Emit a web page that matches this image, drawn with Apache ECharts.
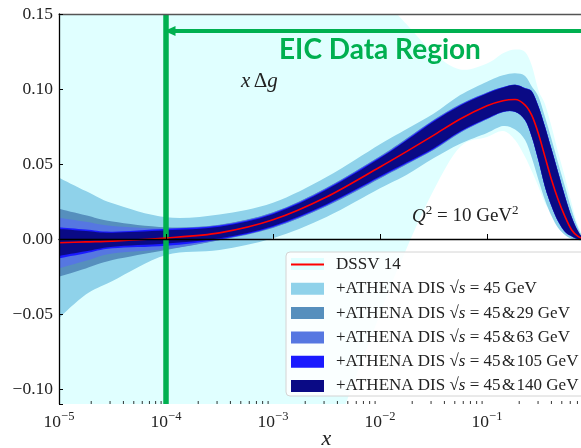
<!DOCTYPE html>
<html><head><meta charset="utf-8">
<script src="https://cdn.jsdelivr.net/npm/echarts@6/dist/echarts.min.js"></script>
<style>html,body{margin:0;padding:0;background:#fff}#c{width:581px;height:448px}</style>
</head><body><div id="c"></div>
<script>
// ---------------- data ----------------
const xVals = [1e-5, 1.78e-5, 3.16e-5, 1e-4, 3.16e-4, 1e-3, 3.16e-3, 0.01, 0.0178, 0.0316, 0.0562, 0.1, 0.141, 0.183, 0.227, 0.263, 0.303, 0.348, 0.401, 0.461, 0.536, 0.616, 0.709, 0.794, 1.0];
const dssvCentral = [-0.0025, -0.0019, -0.0014, 0.0007, 0.0041, 0.0128, 0.0280, 0.0480, 0.0584, 0.0691, 0.0800, 0.0888, 0.0922, 0.0930, 0.0893, 0.0822, 0.0700, 0.0549, 0.0395, 0.0265, 0.0149, 0.0062, 0.0017, 0.0003, 0.0];
const dssvUpper = [0.2, 0.2, 0.2, 0.2, 0.2, 0.2, 0.2, 0.162, 0.143, 0.124, 0.113, 0.117, 0.1238, 0.1263, 0.1247, 0.1153, 0.099, 0.09, 0.075, 0.058, 0.041, 0.024, 0.009, 0.003, 0.001];
const dssvLower = [-0.3, -0.3, -0.3, -0.3, -0.3, -0.3, -0.15, -0.05, -0.006, 0.0323, 0.0615, 0.068, 0.072, 0.066, 0.0547, 0.045, 0.0349, 0.024, 0.0167, 0.0093, 0.004, 0.0013, -0.0007, -0.001, -0.001];
const ath45Upper = [0.0409, 0.0320, 0.0238, 0.0145, 0.0164, 0.0242, 0.0413, 0.0632, 0.0734, 0.0835, 0.0960, 0.1049, 0.1091, 0.1105, 0.1087, 0.1015, 0.0949, 0.0815, 0.0665, 0.0509, 0.0349, 0.0198, 0.0075, 0.0020, 0.0005];
const ath45Lower = [-0.0527, -0.0370, -0.0280, -0.0107, -0.0073, 0.0005, 0.0147, 0.0338, 0.0429, 0.0538, 0.0635, 0.0707, 0.0753, 0.0730, 0.0660, 0.0538, 0.0393, 0.0260, 0.0153, 0.0075, 0.0027, 0.0002, -0.0007, -0.0008, -0.0008];
const ath29Upper = [0.0202, 0.0158, 0.0116, 0.0078, 0.0095, 0.0178, 0.0342, 0.0552, 0.0671, 0.0794, 0.0898, 0.0977, 0.1013, 0.1030, 0.1007, 0.0985, 0.0885, 0.0752, 0.0601, 0.0448, 0.0285, 0.0151, 0.0053, 0.0013, 0.0003];
const ath29Lower = [-0.0251, -0.0196, -0.0140, -0.0073, -0.0008, 0.0074, 0.0218, 0.0404, 0.0498, 0.0593, 0.0709, 0.0798, 0.0845, 0.0846, 0.0790, 0.0675, 0.0519, 0.0346, 0.0217, 0.0117, 0.0046, 0.0017, -0.0003, -0.0004, -0.0004];
const ath63Upper = [0.0142, 0.0115, 0.0087, 0.0071, 0.0093, 0.0176, 0.0340, 0.0550, 0.0669, 0.0792, 0.0897, 0.0976, 0.1012, 0.1029, 0.1006, 0.0984, 0.0884, 0.0751, 0.0600, 0.0447, 0.0284, 0.0150, 0.0052, 0.0012, 0.0003];
const ath63Lower = [-0.0196, -0.0145, -0.0096, -0.0067, -0.0006, 0.0076, 0.0220, 0.0406, 0.0500, 0.0595, 0.0710, 0.0799, 0.0846, 0.0847, 0.0791, 0.0676, 0.0520, 0.0347, 0.0218, 0.0118, 0.0047, 0.0018, -0.0002, -0.0003, -0.0003];
const ath105Upper = [0.0078, 0.0063, 0.0049, 0.0068, 0.0090, 0.0172, 0.0335, 0.0545, 0.0664, 0.0788, 0.0894, 0.0974, 0.1011, 0.1028, 0.1005, 0.0983, 0.0883, 0.0750, 0.0599, 0.0446, 0.0283, 0.0150, 0.0052, 0.0012, 0.0003];
const ath105Lower = [-0.0129, -0.0095, -0.0062, -0.0045, -0.0003, 0.0080, 0.0225, 0.0411, 0.0505, 0.0599, 0.0713, 0.0801, 0.0847, 0.0848, 0.0792, 0.0677, 0.0521, 0.0348, 0.0219, 0.0119, 0.0048, 0.0019, -0.0001, -0.0003, -0.0003];
const ath140Upper = [0.0067, 0.0054, 0.0042, 0.0058, 0.0082, 0.0165, 0.0328, 0.0538, 0.0658, 0.0782, 0.0889, 0.0970, 0.1009, 0.1027, 0.1004, 0.0982, 0.0882, 0.0749, 0.0598, 0.0445, 0.0282, 0.0149, 0.0051, 0.0012, 0.0003];
const ath140Lower = [-0.0113, -0.0082, -0.0051, -0.0030, 0.0005, 0.0087, 0.0232, 0.0418, 0.0511, 0.0605, 0.0718, 0.0805, 0.0849, 0.0849, 0.0793, 0.0678, 0.0522, 0.0349, 0.0220, 0.0120, 0.0049, 0.0020, 0.0000, -0.0003, -0.0003];

const legendNames = ['DSSV 14', '+ATHENA DIS √s = 45 GeV', '+ATHENA DIS √s = 45\u200a&\u200a29 GeV', '+ATHENA DIS √s = 45\u200a&\u200a63 GeV', '+ATHENA DIS √s = 45\u200a&\u200a105 GeV', '+ATHENA DIS √s = 45\u200a&\u200a140 GeV'];
const eicXMin = 1e-4;      // start of EIC data region
const arrowY = 0.1387;     // height of EIC arrow
const arrowTipX = 1.09e-4;
const xMin = 1e-5, xMax = 1, yMin = -0.11, yMax = 0.15;

// ---------------- styles ----------------
const SERIF = 'Liberation Serif';
const colCyan = '#e0ffff', colLB = '#8fd2ea', colSteel = '#568fbd', colRoyal = '#5677e1', colBlue = '#1a1aff', colNavy = '#0a0a85';

// smooth path through pixel points (Catmull-Rom -> cubic Bezier), x-monotone clamped
function curveCmds(p) {
  let d = '';
  const k = 1 / 6;
  for (let i = 0; i < p.length - 1; i++) {
    const p0 = p[i - 1] || p[i], p1 = p[i], p2 = p[i + 1], p3 = p[i + 2] || p[i + 1];
    let c1x = p1[0] + (p2[0] - p0[0]) * k, c1y = p1[1] + (p2[1] - p0[1]) * k;
    let c2x = p2[0] - (p3[0] - p1[0]) * k, c2y = p2[1] - (p3[1] - p1[1]) * k;
    const lo = Math.min(p1[0], p2[0]), hi = Math.max(p1[0], p2[0]);
    c1x = Math.min(hi, Math.max(lo, c1x)); c2x = Math.min(hi, Math.max(lo, c2x));
    d += ' C' + c1x.toFixed(2) + ',' + c1y.toFixed(2) + ' ' + c2x.toFixed(2) + ',' + c2y.toFixed(2) + ' ' + p2[0].toFixed(2) + ',' + p2[1].toFixed(2);
  }
  return d;
}

function band(label, lower, upper, color) {
  return {
    type: 'custom', name: label, silent: true, animation: false, clip: true,
    itemStyle: {color: color},
    data: [[xVals[0], lower[0]]],
    encode: {x: 0, y: 1},
    renderItem: function (params, api) {
      if (params.dataIndex !== 0) return;
      const up = xVals.map((x, i) => api.coord([x, upper[i]]));
      const lo = xVals.map((x, i) => api.coord([x, lower[i]])).reverse();
      const d = 'M' + up[0][0] + ',' + up[0][1] + curveCmds(up) + ' L' + lo[0][0] + ',' + lo[0][1] + curveCmds(lo) + ' Z';
      const cs = params.coordSys;
      return {
        type: 'path', shape: {pathData: d}, style: {fill: color, stroke: null},
        clipPath: {type: 'rect', shape: {x: cs.x, y: cs.y, width: cs.width, height: cs.height}}
      };
    }
  };
}

const minorX = [];
for (let e = -5; e < 0; e++) for (let m = 2; m <= 9; m++) minorX.push(m * Math.pow(10, e));

const series = [
  band('DSSV band', dssvLower, dssvUpper, colCyan),
  band(legendNames[1], ath45Lower, ath45Upper, colLB),
  band(legendNames[2], ath29Lower, ath29Upper, colSteel),
  band(legendNames[3], ath63Lower, ath63Upper, colRoyal),
  band(legendNames[4], ath105Lower, ath105Upper, colBlue),
  band(legendNames[5], ath140Lower, ath140Upper, colNavy),
  {
    type: 'line', name: legendNames[0], data: xVals.map((x, i) => [x, dssvCentral[i]]), symbol: 'none', showSymbol: false, smooth: 0.3,
    lineStyle: {color: '#ff0000', width: 1.6}, itemStyle: {color: '#ff0000'}, silent: true, animation: false, z: 5,
    markLine: {
      silent: true, animation: false, symbol: ['none', 'none'], label: {show: false},
      data: [[{coord: [eicXMin, yMin]}, {coord: [eicXMin, yMax]}]],
      lineStyle: {color: '#00b050', width: 5.5, type: 'solid'}
    }
  }, {
    type: 'line', name: 'arrow', data: [], silent: true, animation: false, z: 5,
    markLine: {
      silent: true, animation: false, label: {show: false}, symbol: ['none', 'triangle'], symbolSize: [10, 11],
      data: [[{coord: [xMax, arrowY]}, {coord: [arrowTipX, arrowY]}]],
      lineStyle: {color: '#00b050', width: 4, type: 'solid'}
    }
  }, {
    type: 'custom', name: 'minor', silent: true, animation: false, z: 11, clip: false,
    data: minorX.map(v => [v, yMin]),
    encode: {x: 0, y: 1},
    renderItem: function (params, api) {
      const p = api.coord([api.value(0), api.value(1)]);
      return {type: 'line', shape: {x1: p[0], y1: p[1], x2: p[0], y2: p[1] - 3}, style: {stroke: '#000', lineWidth: 0.8}};
    }
  }
];

function legendFmt(name) {
  const k = name.indexOf('√s');
  if (k < 0) return '{t|' + name + '}';
  return '{t|' + name.slice(0, k) + '}{t|√}{i|s}{t|' + name.slice(k + 2) + '}';
}

const chart = echarts.init(document.getElementById('c'), null, {renderer: 'canvas'});
chart.setOption({
  animation: false,
  backgroundColor: '#fff',
  grid: {left: 59, top: 14, right: -13, bottom: 44, containLabel: false, outerBoundsMode: 'none'},
  xAxis: [{
    type: 'log', logBase: 10, min: xMin, max: xMax, z: 10,
    axisLine: {show: true, lineStyle: {color: '#000', width: 1.3}},
    axisTick: {show: true, inside: true, length: 5, lineStyle: {color: '#000', width: 1}},
    splitLine: {show: false},
    axisLabel: {
      margin: 6, color: '#222',
      formatter: function (v) {
        const l = Math.log10(v), e = Math.round(l);
        if (Math.abs(l - e) > 1e-6 || e >= 0) return '';
        return '{b|10}{s|−' + (-e) + '}';
      },
      rich: {
        b: {fontFamily: SERIF, fontSize: 17.5, lineHeight: 21, verticalAlign: 'bottom', color: '#222'},
        s: {fontFamily: SERIF, fontSize: 12.5, lineHeight: 12, verticalAlign: 'top', color: '#222'}
      }
    },
    name: 'x', nameLocation: 'middle', nameGap: 24, nameMoveOverlap: false,
    nameTextStyle: {fontFamily: SERIF, fontStyle: 'italic', fontSize: 22, color: '#222', verticalAlign: 'top', lineHeight: 22}
  }, {
    type: 'log', logBase: 10, min: xMin, max: xMax, position: 'top', z: 10,
    axisLine: {show: true, lineStyle: {color: '#555', width: 1.3}},
    axisTick: {show: false}, axisLabel: {show: false}, splitLine: {show: false}
  }],
  yAxis: {
    type: 'value', min: yMin, max: yMax, splitNumber: 5, z: 10,
    axisLine: {show: true, lineStyle: {color: '#000', width: 1.3}},
    axisTick: {show: true, inside: true, length: 4, lineStyle: {color: '#000', width: 1}},
    splitLine: {show: false},
    axisLabel: {
      margin: 6, fontFamily: SERIF, fontSize: 17.5, color: '#222',
      formatter: function (v) {
        if (Math.abs(v - yMin) < 1e-9) return '';
        const s = Math.abs(v).toFixed(2);
        return (v < -1e-9 ? '−' : '') + s;
      }
    }
  },
  legend: {
    orient: 'vertical', left: 291, top: 256, padding: 0, itemGap: 7.3, itemWidth: 33, itemHeight: 12,
    selectedMode: false, z: 20,
    data: [{name: legendNames[0], icon: 'path://M0,0 H100 V6 H0 Z', itemStyle: {color: '#ff0000'}}]
      .concat(legendNames.slice(1).map(n => ({name: n, icon: 'rect'}))),
    formatter: legendFmt,
    textStyle: {
      padding: [0, 0, 0, 7],
      rich: {
        t: {fontFamily: SERIF, fontSize: 17, color: '#222'},
        i: {fontFamily: SERIF, fontSize: 17, fontStyle: 'italic', color: '#222'}
      }
    }
  },
  graphic: [
    {type: 'rect', z: 18, silent: true, shape: {x: 286, y: 252, width: 320, height: 144, r: 4},
     style: {fill: 'rgba(255,255,255,0.82)', stroke: '#d4d4d4', lineWidth: 1}},
    {type: 'rect', z: 19, silent: true, shape: {x: 291, y: 258, width: 33, height: 12},
     style: {fill: colCyan}},
    {type: 'text', z: 20, left: 279, top: 36, silent: true,
     style: {text: 'EIC Data Region', fill: '#00b050', fontFamily: 'Lato', fontWeight: 'bold', fontSize: 28}},
    {type: 'text', z: 20, left: 241, top: 71, silent: true,
     style: {text: '{i|x} {u|Δ}{i|g}', rich: {
       i: {fontFamily: SERIF, fontStyle: 'italic', fontSize: 21, fill: '#222'},
       u: {fontFamily: SERIF, fontSize: 21, fill: '#222'}}}},
    {type: 'text', z: 20, left: 412, top: 204, silent: true,
     style: {text: '{i|Q}{s|2}{t| = 10 GeV}{s|2}', rich: {
       i: {fontFamily: SERIF, fontStyle: 'italic', fontSize: 19, lineHeight: 22, verticalAlign: 'bottom', fill: '#222'},
       t: {fontFamily: SERIF, fontSize: 19, lineHeight: 22, verticalAlign: 'bottom', fill: '#222'},
       s: {fontFamily: SERIF, fontSize: 13, lineHeight: 13, verticalAlign: 'top', fill: '#222'}}}}
  ],
  series: series
});
</script>
</body></html>
